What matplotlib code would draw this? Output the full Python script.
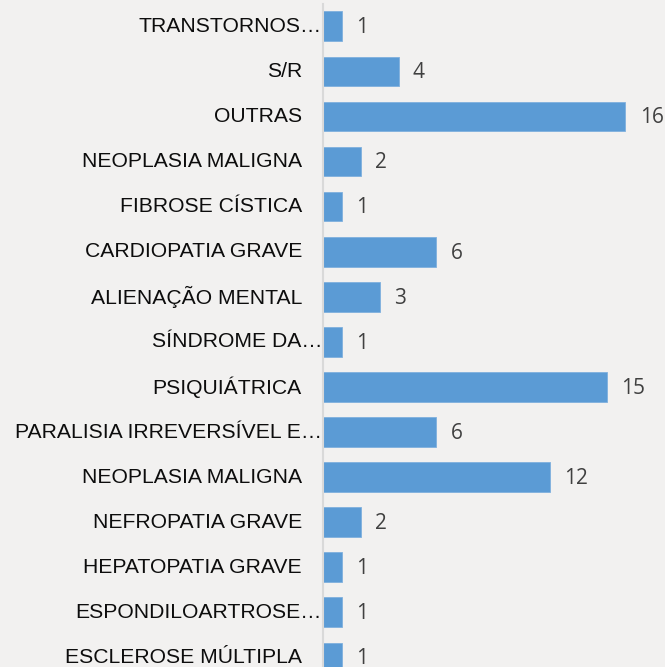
import matplotlib.pyplot as plt
import matplotlib.transforms as mtransforms

# Data (top to bottom as shown)
categories = ['TRANSTORNOS…', 'S/R', 'OUTRAS', 'NEOPLASIA MALIGNA', 'FIBROSE CÍSTICA',
              'CARDIOPATIA GRAVE', 'ALIENAÇÃO MENTAL', 'SÍNDROME DA…', 'PSIQUIÁTRICA',
              'PARALISIA IRREVERSÍVEL E…', 'NEOPLASIA MALIGNA', 'NEFROPATIA GRAVE',
              'HEPATOPATIA GRAVE', 'ESPONDILOARTROSE…', 'ESCLEROSE MÚLTIPLA']
values = [1, 4, 16, 2, 1, 6, 3, 1, 15, 6, 12, 2, 1, 1, 1]

W, H = 665, 667
bg = '#f2f1f0'
fig = plt.figure(figsize=(W / 100, H / 100), dpi=100, facecolor=bg)
ax = fig.add_axes([323 / W, 0, (W - 323) / W, (H - 4) / H], facecolor=bg)

pos = list(range(len(categories)))
ax.barh(pos, values, height=0.66, color='#5b9bd5', edgecolor='#7fb0de', linewidth=0.6)

# value labels, a few pixels right of each bar end
for y, v in zip(pos, values):
    ax.text(v + 0.75, y + 0.03, str(v), va='center', ha='left',
            fontsize=15, color='#404040', family='Open Sans')

ax.set_xlim(0, (W - 323) / 18.9)
ax.set_ylim(14.213, -0.495)
ax.set_yticks([])
ax.set_xticks([])

# category labels: truncated ones run up to the axis line
trans = ax.get_yaxis_transform()
for y, c in zip(pos, categories):
    gap = -1 if c.endswith('…') else -21
    off = mtransforms.ScaledTranslation(gap / 100, 0, fig.dpi_scale_trans)
    ax.text(0, y, c, transform=trans + off, ha='right', va='center',
            fontsize=15.2, family='Liberation Sans', color='#0d0d0d')

for s in ['top', 'right', 'bottom']:
    ax.spines[s].set_visible(False)
ax.spines['left'].set_color('#d9d9d9')
ax.spines['left'].set_linewidth(1.5)

fig.savefig('out.png', dpi=100, facecolor=bg)
